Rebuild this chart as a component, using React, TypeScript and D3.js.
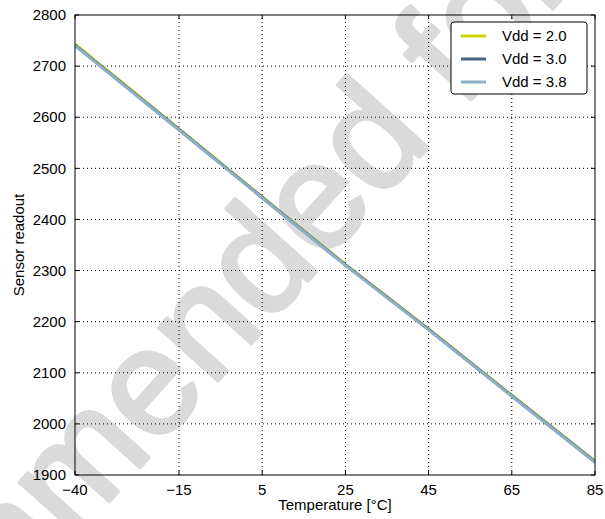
import React from "react";
import * as d3 from "d3";

const temps = [-40, -15, 5, 25, 45, 65, 85];
const vdd20 = [2743, 2577, 2444, 2312, 2186, 2056, 1927];
const vdd30 = [2741, 2576, 2443, 2311, 2185, 2055, 1926];
const vdd38 = [2740, 2575, 2442, 2310, 2184, 2054, 1925];
const seriesNames = ["Vdd = 2.0", "Vdd = 3.0", "Vdd = 3.8"];
const seriesColors = ["#c8d400", "#46647a", "#8cafc8"];
const xTicks = [-40, -15, 5, 25, 45, 65, 85];
const yTicks = [1900, 2000, 2100, 2200, 2300, 2400, 2500, 2600, 2700, 2800];

const W = 605, H = 519;
const M = { left: 75, right: 10, top: 15, bottom: 44 };
const FONT = "Liberation Sans, Arial, sans-serif";

export default function App() {
  const x = d3.scaleLinear().domain([-40, 85]).range([M.left, W - M.right]);
  const y = d3.scaleLinear().domain([1900, 2800]).range([H - M.bottom, M.top]);
  const line = d3.line<number>().x((_, i) => x(temps[i])).y(d => y(d));
  const all = [vdd20, vdd30, vdd38];
  const x0 = x.range()[0], x1 = x.range()[1], y0 = y.range()[0], y1 = y.range()[1];
  const fmt = (v: number) => (v < 0 ? "\u2212" + Math.abs(v) : String(v));

  // watermark
  const ang = -48;
  const rad = (ang * Math.PI) / 180;
  const wmSize = 150;
  const lead = 3.779 * wmSize;
  const ax = -12, ay = 636;
  const wmX = ax - lead * Math.cos(rad);
  const wmY = ay - lead * Math.sin(rad);

  return (
    <svg width={W} height={H} style={{ position: "absolute", left: 0, top: 0, background: "#fff" }} fontFamily={FONT}>
      <rect x={0} y={0} width={W} height={H} fill="#fff" />
      <text x={wmX} y={wmY} fontSize={wmSize} fill="#dadada" stroke="#dadada" strokeWidth={4} strokeLinejoin="round" transform={`rotate(${ang},${wmX},${wmY})`}>
        Not recommended for new designs
      </text>
      {/* grid */}
      {xTicks.slice(1, -1).map(t => (
        <line key={"gx" + t} x1={x(t)} x2={x(t)} y1={y0} y2={y1} stroke="#000" strokeWidth={1} strokeDasharray="1,3" />
      ))}
      {yTicks.slice(1, -1).map(t => (
        <line key={"gy" + t} x1={x0} x2={x1} y1={y(t)} y2={y(t)} stroke="#000" strokeWidth={1} strokeDasharray="1,3" />
      ))}
      {/* lines */}
      <g clipPath="url(#clip)">
        {all.map((s, i) => (
          <path key={i} d={line(s) || ""} fill="none" stroke={seriesColors[i]} strokeWidth={3} />
        ))}
      </g>
      <defs>
        <clipPath id="clip">
          <rect x={x0} y={y1} width={x1 - x0} height={y0 - y1} />
        </clipPath>
      </defs>
      {/* ticks */}
      {xTicks.map(t => (
        <g key={"tx" + t}>
          <line x1={x(t)} x2={x(t)} y1={y0} y2={y0 - 4} stroke="#000" />
          <line x1={x(t)} x2={x(t)} y1={y1} y2={y1 + 4} stroke="#000" />
          <text x={x(t)} y={y0 + 20} fontSize={15} textAnchor="middle">{fmt(t)}</text>
        </g>
      ))}
      {yTicks.map(t => (
        <g key={"ty" + t}>
          <line x1={x0} x2={x0 + 4} y1={y(t)} y2={y(t)} stroke="#000" />
          <line x1={x1} x2={x1 - 4} y1={y(t)} y2={y(t)} stroke="#000" />
          <text x={x0 - 9} y={y(t)} dy="0.35em" fontSize={15} textAnchor="end">{t}</text>
        </g>
      ))}
      <rect x={x0} y={y1} width={x1 - x0} height={y0 - y1} fill="none" stroke="#000" strokeWidth={1} />
      <text x={(x0 + x1) / 2} y={510} fontSize={15} textAnchor="middle">Temperature [°C]</text>
      <text transform={`translate(24,${(y0 + y1) / 2}) rotate(-90)`} fontSize={15} textAnchor="middle">Sensor readout</text>
      {/* legend */}
      <g>
        <rect x={451} y={22} width={136} height={72} rx={3} fill="#fff" stroke="#000" strokeWidth={1} />
        {seriesNames.map((n, i) => (
          <g key={n}>
            <line x1={461} x2={486} y1={36 + i * 23} y2={36 + i * 23} stroke={seriesColors[i]} strokeWidth={3} />
            <text x={502} y={36 + i * 23} dy="0.35em" fontSize={15}>{n}</text>
          </g>
        ))}
      </g>
    </svg>
  );
}
